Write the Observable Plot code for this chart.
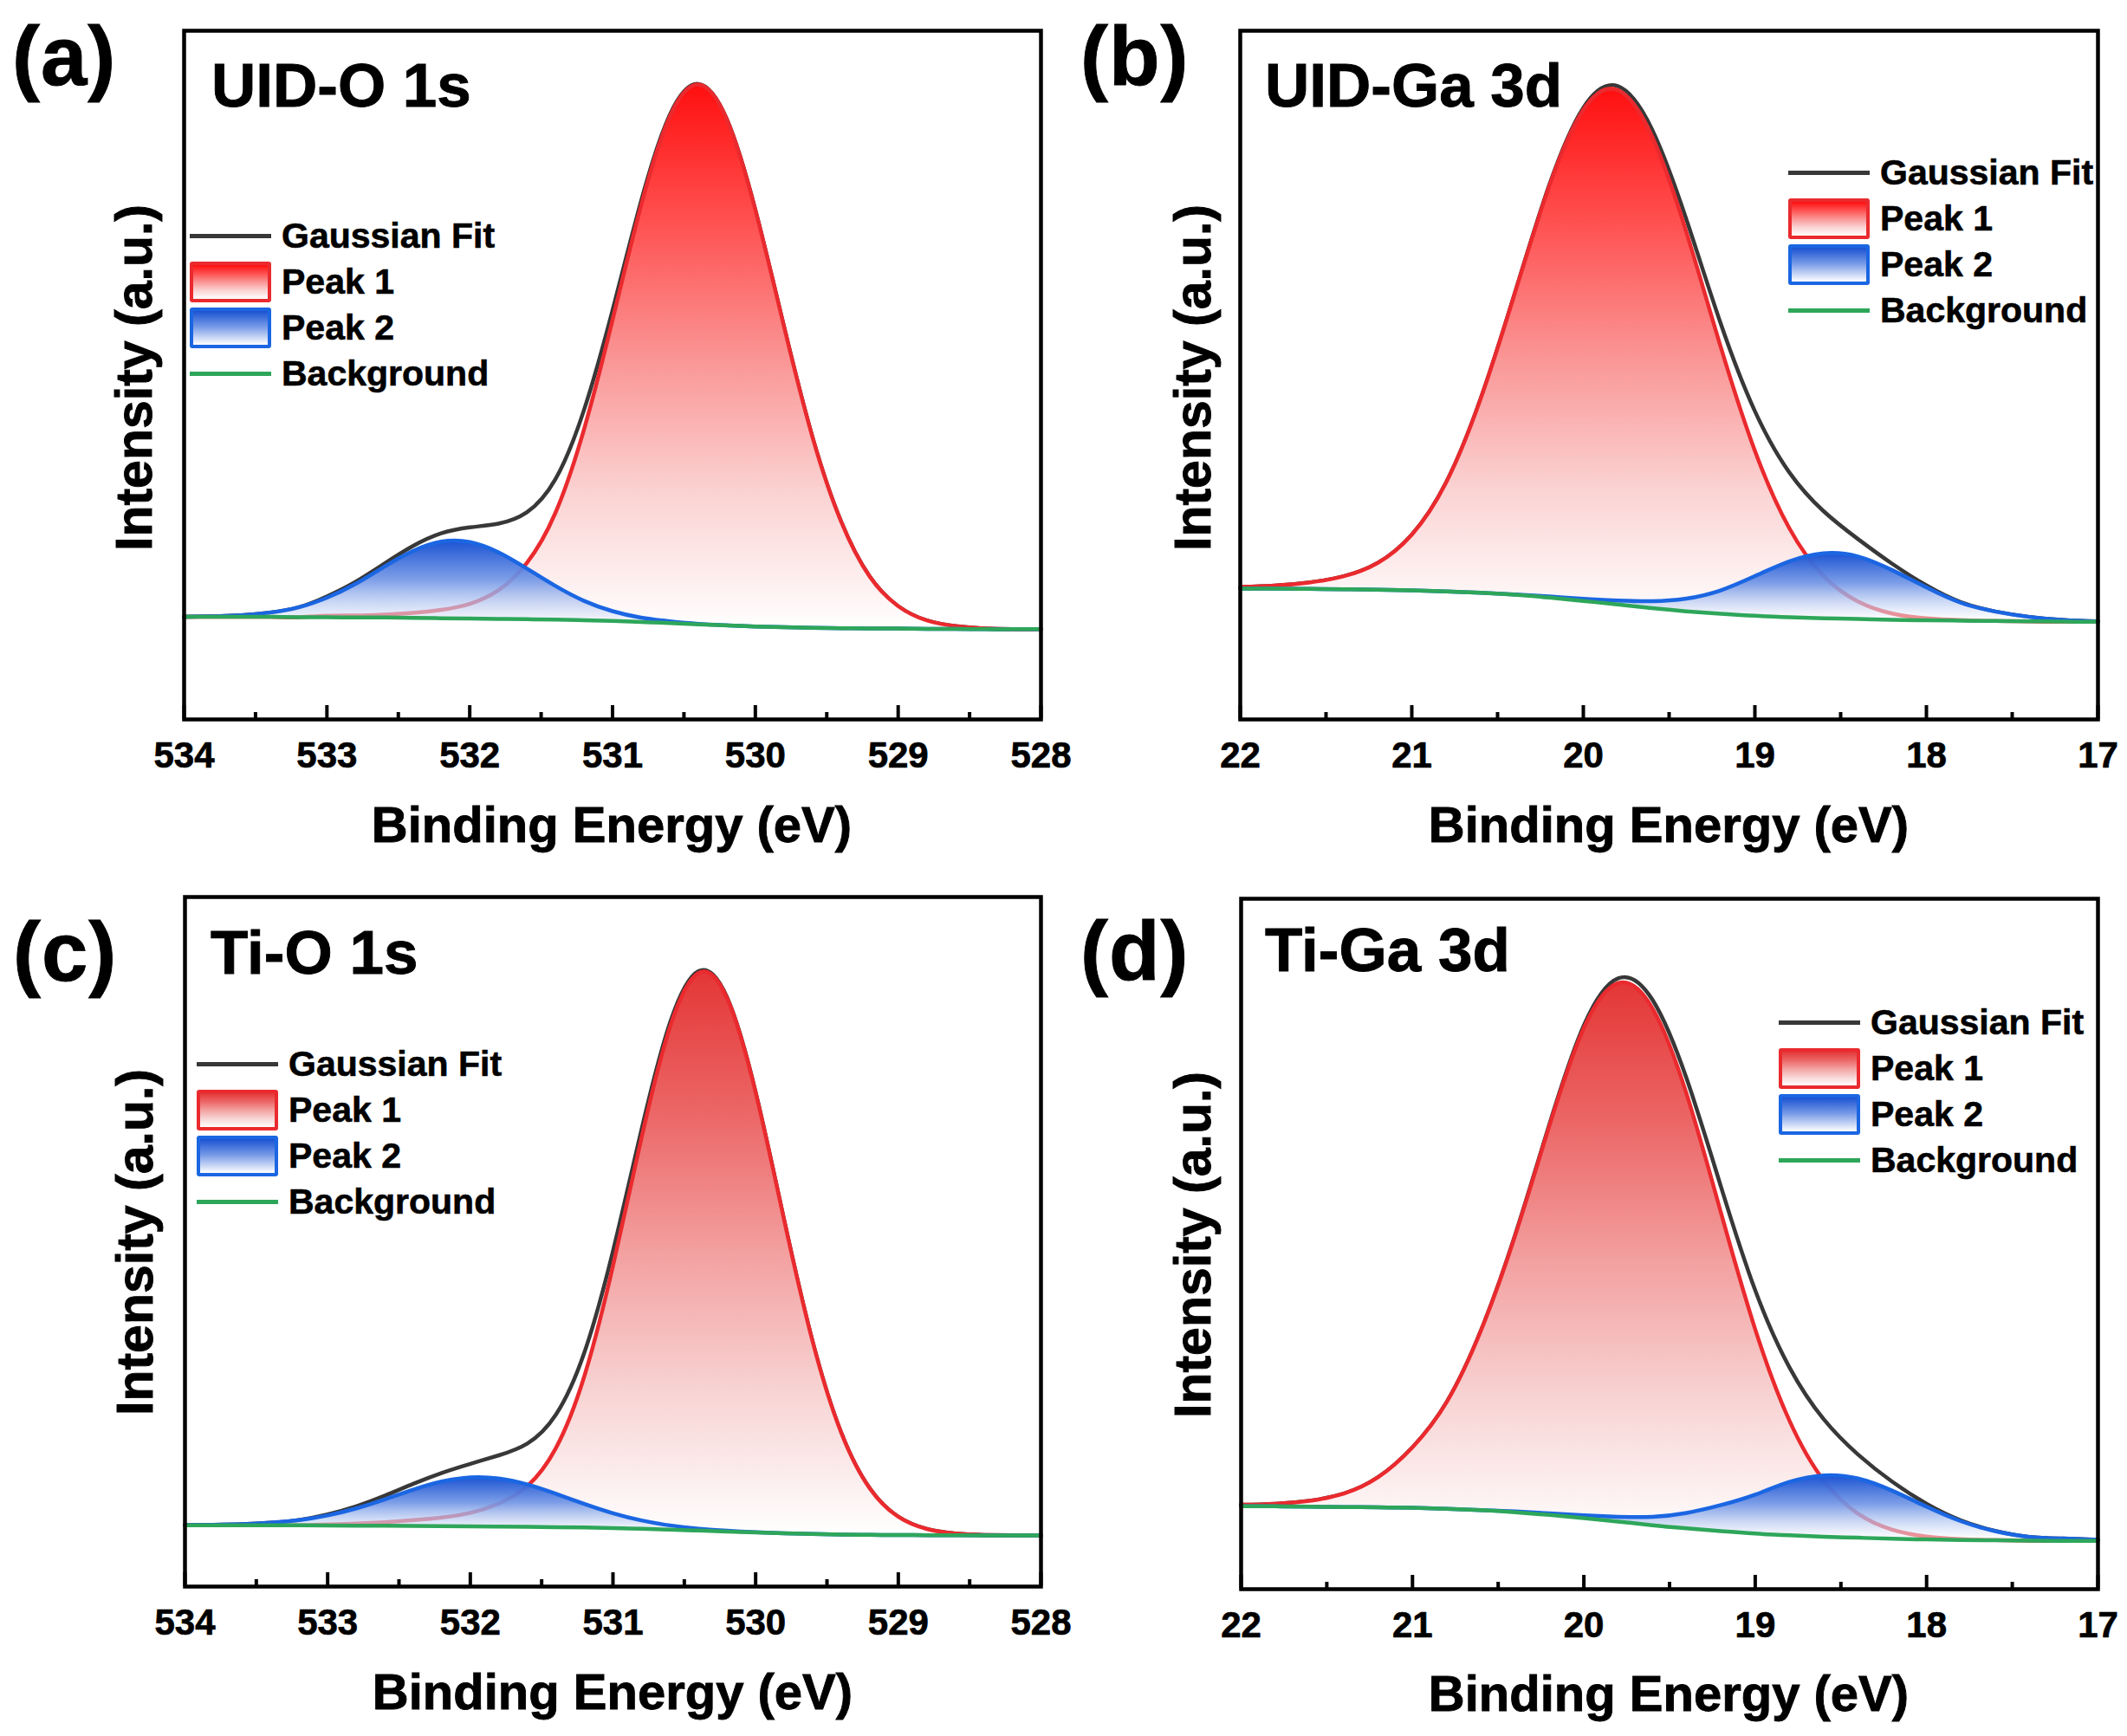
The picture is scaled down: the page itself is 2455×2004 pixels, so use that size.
<!DOCTYPE html>
<html>
<head>
<meta charset="utf-8">
<script src="https://cdn.jsdelivr.net/npm/d3@7"></script>
<script src="https://cdn.jsdelivr.net/npm/@observablehq/plot@0.6"></script>
<style>
  html, body { margin: 0; padding: 0; background: #fff; }
  #fig { position: relative; width: 2455px; height: 2004px; background: #fff; overflow: hidden;
         font-family: 'Liberation Sans', Arial, Helvetica, sans-serif; font-weight: bold; color: #000; }
  .lbl { position: absolute; white-space: nowrap; line-height: 1; -webkit-text-stroke: 0.9px #000; }
  .legend { position: absolute; }
  .row { display: flex; align-items: center; height: 53px; }
  .sw { width: 94px; height: 53px; display: flex; align-items: center; justify-content: center; margin-right: 12px; }
  .ln { width: 94px; height: 5px; }
  .bx { width: 94px; height: 47px; box-sizing: border-box; border: 4px solid; border-radius: 3px; }
  .lt { font-size: 41px; line-height: 1; white-space: nowrap; -webkit-text-stroke: 0.6px #000; }
</style>
</head>
<body>
<div id="fig"></div>
<script>
// ---------------- DATA (y in % of frame height) ----------------
const energyO1s = [534.0, 533.8, 533.6, 533.4, 533.2, 533.0, 532.8, 532.6, 532.4, 532.2, 532.0, 531.8, 531.6, 531.4, 531.2, 531.0, 530.8, 530.6, 530.4, 530.2, 530.0, 529.8, 529.6, 529.4, 529.2, 529.0, 528.8, 528.6, 528.4, 528.2, 528.0];
const energyGa3d = [22.0, 21.8, 21.6, 21.4, 21.2, 21.0, 20.8, 20.6, 20.4, 20.2, 20.0, 19.8, 19.6, 19.4, 19.2, 19.0, 18.8, 18.6, 18.4, 18.2, 18.0, 17.8, 17.6, 17.4, 17.2, 17.0];

// (a) UID-O 1s
const uidO1sBackground = [14.9, 14.9, 14.9, 14.9, 14.85, 14.85, 14.8, 14.8, 14.75, 14.7, 14.65, 14.6, 14.55, 14.5, 14.4, 14.3, 14.15, 14.0, 13.8, 13.65, 13.5, 13.4, 13.3, 13.25, 13.2, 13.2, 13.15, 13.15, 13.1, 13.1, 13.1];
const uidO1sPeak1 = [14.9, 14.9, 14.9, 14.9, 14.85, 15.05, 15.1, 15.23, 15.47, 15.91, 16.78, 18.75, 22.72, 30.0, 42.1, 58.0, 74.65, 87.5, 92.2, 87.15, 74.0, 57.1, 41.0, 28.75, 20.77, 16.45, 14.38, 13.56, 13.22, 13.1, 13.1];
const uidO1sPeak2 = [14.92, 14.98, 15.14, 15.52, 16.27, 17.67, 19.68, 22.16, 24.43, 25.81, 25.76, 24.28, 21.91, 19.38, 17.22, 15.72, 14.77, 14.24, 13.88, 13.67, 13.5, 13.4, 13.3, 13.25, 13.2, 13.2, 13.15, 13.15, 13.1, 13.1, 13.1];
const uidO1sFit = [14.92, 14.98, 15.14, 15.52, 16.27, 17.87, 19.98, 22.59, 25.15, 27.02, 27.89, 28.43, 30.08, 34.88, 44.92, 59.42, 75.27, 87.74, 92.28, 87.17, 74.0, 57.1, 41.0, 28.75, 20.77, 16.45, 14.38, 13.56, 13.22, 13.1, 13.1];

// (b) UID-Ga 3d
const uidGa3dBackground = [19.0, 19.0, 18.95, 18.9, 18.85, 18.75, 18.6, 18.4, 18.1, 17.7, 17.2, 16.7, 16.15, 15.7, 15.35, 15.05, 14.85, 14.7, 14.6, 14.45, 14.4, 14.35, 14.3, 14.25, 14.2, 14.2];
const uidGa3dPeak1 = [19.23, 19.42, 19.87, 20.77, 22.71, 26.83, 34.4, 46.47, 61.82, 77.35, 88.51, 91.39, 84.69, 70.81, 54.16, 39.01, 27.8, 20.83, 17.14, 15.38, 14.69, 14.43, 14.3, 14.25, 14.2, 14.2];
const uidGa3dPeak2 = [19.0, 19.0, 18.95, 18.9, 18.85, 18.75, 18.6, 18.4, 18.15, 17.86, 17.51, 17.27, 17.17, 17.55, 18.74, 20.81, 22.95, 24.12, 23.67, 21.68, 19.17, 16.95, 15.68, 14.89, 14.44, 14.23];
const uidGa3dFit = [19.23, 19.42, 19.87, 20.77, 22.71, 26.83, 34.4, 46.47, 61.87, 77.51, 88.82, 91.96, 85.71, 72.66, 57.55, 44.77, 35.9, 30.25, 26.21, 22.61, 19.46, 17.03, 15.68, 14.89, 14.44, 14.23];

// (c) Ti-O 1s
const tiO1sBackground = [8.9, 8.9, 8.9, 8.9, 8.88, 8.86, 8.84, 8.82, 8.8, 8.77, 8.74, 8.7, 8.66, 8.62, 8.56, 8.48, 8.38, 8.26, 8.12, 7.98, 7.84, 7.72, 7.62, 7.55, 7.5, 7.47, 7.45, 7.43, 7.42, 7.41, 7.4];
const tiO1sPeak1 = [8.9, 8.9, 8.9, 8.9, 8.9, 9.01, 9.14, 9.34, 9.64, 10.02, 10.7, 12.05, 14.59, 20.09, 30.56, 46.51, 65.07, 81.17, 88.98, 85.33, 71.67, 53.14, 35.49, 22.31, 14.24, 10.12, 8.35, 7.69, 7.49, 7.43, 7.4];
const tiO1sPeak2 = [8.92, 8.96, 9.05, 9.26, 9.64, 10.32, 11.34, 12.65, 14.06, 15.23, 15.84, 15.68, 14.81, 13.46, 11.97, 10.63, 9.59, 8.87, 8.4, 8.09, 7.88, 7.73, 7.62, 7.55, 7.5, 7.47, 7.45, 7.43, 7.42, 7.41, 7.4];
const tiO1sFit = [8.92, 8.96, 9.05, 9.26, 9.66, 10.47, 11.64, 13.17, 14.9, 16.48, 17.8, 19.03, 20.74, 24.93, 33.97, 48.66, 66.28, 81.78, 89.26, 85.44, 71.71, 53.15, 35.49, 22.31, 14.24, 10.12, 8.35, 7.69, 7.49, 7.43, 7.4];

// (d) Ti-Ga 3d
const tiGa3dBackground = [12.0, 12.0, 11.95, 11.9, 11.85, 11.78, 11.65, 11.45, 11.15, 10.75, 10.3, 9.8, 9.25, 8.8, 8.4, 8.05, 7.8, 7.6, 7.45, 7.3, 7.2, 7.12, 7.08, 7.04, 7.0, 7.0];
const tiGa3dPeak1 = [12.22, 12.37, 12.81, 13.85, 16.23, 20.55, 27.11, 37.49, 51.29, 67.2, 81.27, 87.79, 84.15, 71.67, 54.52, 37.63, 24.38, 15.72, 10.92, 8.6, 7.62, 7.24, 7.11, 7.04, 7.0, 7.0];
const tiGa3dPeak2 = [12.0, 12.0, 11.95, 11.9, 11.85, 11.78, 11.65, 11.45, 11.25, 10.97, 10.69, 10.49, 10.48, 11.05, 12.18, 13.7, 15.53, 16.48, 16.03, 14.26, 11.95, 9.85, 8.4, 7.57, 7.33, 7.15];
const tiGa3dFit = [12.22, 12.37, 12.81, 13.85, 16.23, 20.55, 27.11, 37.49, 51.39, 67.42, 81.66, 88.48, 85.38, 73.92, 58.3, 43.28, 32.11, 24.6, 19.5, 15.56, 12.37, 9.97, 8.43, 7.57, 7.33, 7.15];

// ticks and labels
const o1sMajorTicks = [534, 533, 532, 531, 530, 529, 528];
const o1sMinorTicks = [533.5, 532.5, 531.5, 530.5, 529.5, 528.5];
const ga3dMajorTicks = [22, 21, 20, 19, 18, 17];
const ga3dMinorTicks = [21.5, 20.5, 19.5, 18.5, 17.5];
const legendLabels = ["Gaussian Fit", "Peak 1", "Peak 2", "Background"];
const panelLetters = ["(a)", "(b)", "(c)", "(d)"];
const panelTitles = ["UID-O 1s", "UID-Ga 3d", "Ti-O 1s", "Ti-Ga 3d"];
const xAxisTitle = "Binding Energy (eV)";
const yAxisTitle = "Intensity (a.u.)";

// ---------------- STYLE ----------------
const FONT = "'Liberation Sans', Arial, Helvetica, sans-serif";
const FIT_COLOR = "#383838";
const RED_LINE = "#ea2a2e";
const BLUE_LINE = "#1b66e2";
const GREEN_LINE = "#2ea65a";
const BLUE_STOPS = [[0, "#1a52d2", 1], [0.45, "#7397e6", 0.92], [1, "#ffffff", 0.45]];
const RED_STOPS_BRIGHT = [[0, "#ff0f0f", 1], [0.25, "#ff5050", 1], [0.5, "#fa9494", 1], [0.75, "#fbd2d2", 1], [1, "#ffffff", 1]];
const RED_STOPS_MUTED = [[0, "#e43636", 1], [0.25, "#ec6666", 1], [0.5, "#f3a0a0", 1], [0.75, "#f8d4d4", 1], [1, "#ffffff", 1]];

const fig = document.getElementById("fig");

function addLabel(text, left, baseline, fs, extra = {}) {
  const d = document.createElement("div");
  d.className = "lbl";
  d.textContent = text;
  d.style.fontSize = fs + "px";
  d.style.left = left + "px";
  d.style.top = (baseline - 0.8465 * fs) + "px";
  Object.assign(d.style, extra);
  fig.appendChild(d);
  return d;
}
function addCentered(text, cx, baseline, fs) {
  const d = addLabel(text, cx, baseline, fs);
  d.style.transform = "translateX(-50%)";
}
function addRotated(text, cx, cy, fs) {
  const d = document.createElement("div");
  d.className = "lbl";
  d.textContent = text;
  d.style.fontSize = fs + "px";
  d.style.left = cx + "px";
  d.style.top = cy + "px";
  d.style.transform = "translate(-50%, -50%) rotate(-90deg)";
  fig.appendChild(d);
}
function addLegend(left, top, redStops) {
  const lg = document.createElement("div");
  lg.className = "legend";
  lg.style.left = left + "px";
  lg.style.top = top + "px";
  const grad = (stops) => "linear-gradient(to bottom, " + stops.map(s => s[1] + " " + (s[0] * 100) + "%").join(", ") + ")";
  const swatches = [
    `<div class="ln" style="background:${FIT_COLOR}"></div>`,
    `<div class="bx" style="border-color:${RED_LINE};background:${grad(redStops)}"></div>`,
    `<div class="bx" style="border-color:${BLUE_LINE};background:${grad(BLUE_STOPS)}"></div>`,
    `<div class="ln" style="background:${GREEN_LINE}"></div>`
  ];
  lg.innerHTML = legendLabels.map((t, i) =>
    `<div class="row"><div class="sw">${swatches[i]}</div><div class="lt">${t}</div></div>`).join("");
  fig.appendChild(lg);
}

function addGradient(defs, id, stops) {
  const g = defs.append("linearGradient").attr("id", id)
    .attr("x1", 0).attr("y1", 0).attr("x2", 0).attr("y2", 1);
  for (const [o, c, a] of stops) {
    g.append("stop").attr("offset", o).attr("stop-color", c).attr("stop-opacity", a);
  }
}

function drawPanel(cfg) {
  const data = cfg.energy.map((E, i) => ({E, bg: cfg.bg[i], p1: cfg.p1[i], p2: cfg.p2[i], fit: cfg.fit[i]}));
  const plotH = cfg.h - cfg.mt - cfg.mb;
  const curve = "natural";
  const svg = Plot.plot({
    width: cfg.w, height: cfg.h,
    marginLeft: cfg.ml, marginRight: cfg.mr, marginTop: cfg.mt, marginBottom: cfg.mb,
    style: {background: "transparent", fontFamily: FONT, fontSize: "42px", fontWeight: "bold", color: "#000", overflow: "visible"},
    x: {domain: cfg.domain, axis: null},
    y: {domain: [0, 100], axis: null},
    marks: [
      Plot.line(data, {x: "E", y: "fit", stroke: FIT_COLOR, strokeWidth: 4.5, curve}),
      Plot.areaY(data, {x: "E", y1: "bg", y2: "p1", fill: `url(#${cfg.id}-red)`, curve}),
      Plot.line(data, {x: "E", y: "p1", stroke: RED_LINE, strokeWidth: 4.5, curve}),
      Plot.areaY(data, {x: "E", y1: "bg", y2: "p2", fill: `url(#${cfg.id}-blue)`, curve}),
      Plot.line(data, {x: "E", y: "p2", stroke: BLUE_LINE, strokeWidth: 4.5, curve}),
      Plot.line(data, {x: "E", y: "bg", stroke: GREEN_LINE, strokeWidth: 4.5, curve}),
      Plot.ruleX(cfg.minor, {x: d => d, stroke: "#000", strokeWidth: 4, insetTop: plotH - 8}),
      Plot.ruleX(cfg.major, {x: d => d, stroke: "#000", strokeWidth: 4, insetTop: plotH - 16}),
      Plot.text(cfg.major, {x: d => d, text: d => String(d), frameAnchor: "bottom", lineAnchor: "top", dy: 26, fontSize: 42, fontWeight: "bold", fill: "#000", stroke: "#000", strokeWidth: 0.7}),
      Plot.frame({stroke: "#000", strokeWidth: 4.5})
    ]
  });
  const defs = d3.select(svg).insert("defs", ":first-child");
  addGradient(defs, cfg.id + "-red", cfg.redStops);
  addGradient(defs, cfg.id + "-blue", BLUE_STOPS);
  svg.style.position = "absolute";
  svg.style.left = cfg.left + "px";
  svg.style.top = cfg.top + "px";
  svg.style.maxWidth = "none";
  fig.appendChild(svg);
}

const panels = [
  {id: "pa", left: 0, top: 0, w: 1227, h: 1000, ml: 212, mr: 26, mt: 35, mb: 170,
   domain: [534, 528], energy: energyO1s, bg: uidO1sBackground, p1: uidO1sPeak1, p2: uidO1sPeak2, fit: uidO1sFit,
   major: o1sMajorTicks, minor: o1sMinorTicks, redStops: RED_STOPS_BRIGHT},
  {id: "pb", left: 1227, top: 0, w: 1228, h: 1000, ml: 204, mr: 34, mt: 35, mb: 170,
   domain: [22, 17], energy: energyGa3d, bg: uidGa3dBackground, p1: uidGa3dPeak1, p2: uidGa3dPeak2, fit: uidGa3dFit,
   major: ga3dMajorTicks, minor: ga3dMinorTicks, redStops: RED_STOPS_BRIGHT},
  {id: "pc", left: 0, top: 1000, w: 1227, h: 1004, ml: 213, mr: 26, mt: 35, mb: 173,
   domain: [534, 528], energy: energyO1s, bg: tiO1sBackground, p1: tiO1sPeak1, p2: tiO1sPeak2, fit: tiO1sFit,
   major: o1sMajorTicks, minor: o1sMinorTicks, redStops: RED_STOPS_MUTED},
  {id: "pd", left: 1227, top: 1000, w: 1228, h: 1004, ml: 205, mr: 34, mt: 37, mb: 170,
   domain: [22, 17], energy: energyGa3d, bg: tiGa3dBackground, p1: tiGa3dPeak1, p2: tiGa3dPeak2, fit: tiGa3dFit,
   major: ga3dMajorTicks, minor: ga3dMinorTicks, redStops: RED_STOPS_MUTED}
];
panels.forEach(drawPanel);

// annotations
const annot = [
  {letter: [14, 98], title: [244, 123], yT: [155, 436], xT: [706, 972], legend: [219, 246], stops: RED_STOPS_BRIGHT},
  {letter: [1247, 98], title: [1460, 123], yT: [1377, 436], xT: [1926, 972], legend: [2064, 173], stops: RED_STOPS_BRIGHT},
  {letter: [15, 1132], title: [243, 1124], yT: [156, 1434], xT: [707, 1973], legend: [227, 1202], stops: RED_STOPS_MUTED},
  {letter: [1247, 1131], title: [1460, 1121], yT: [1377, 1437], xT: [1926, 1975], legend: [2053, 1154], stops: RED_STOPS_MUTED}
];
annot.forEach((a, i) => {
  addLabel(panelLetters[i], a.letter[0], a.letter[1], 96, {letterSpacing: "1px"});
  addLabel(panelTitles[i], a.title[0], a.title[1], 71);
  addRotated(yAxisTitle, a.yT[0], a.yT[1], 59);
  addCentered(xAxisTitle, a.xT[0], a.xT[1], 58);
  addLegend(a.legend[0], a.legend[1], a.stops);
});
</script>
</body>
</html>
